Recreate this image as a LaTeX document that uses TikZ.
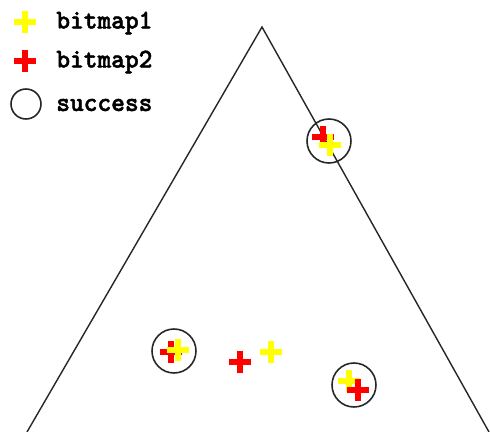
\documentclass[tikz,border=0pt]{standalone}
\usepackage{fontspec}
\newfontfamily\lblfont{lmmonolt10-bold.otf}[FakeBold=1.6]
\usetikzlibrary{shapes.misc, positioning}
\definecolor{bmYellow}{RGB}{255,255,  0}
\definecolor{bmRed}   {RGB}{255,  0,  0}

\begin{document}
\begin{tikzpicture}[
  x=0.02cm, y=-0.02cm,
  mark1/.style={cross out, rotate=45, minimum size=9.6*0.02cm,
    inner sep=0pt, line width=3pt, draw=bmYellow},
  mark2/.style={mark1, draw=bmRed},
  hit/.style={circle, draw=black!85, line width=0.9pt, inner sep=0pt,
    minimum size=44*0.02cm},
  lbl/.style={anchor=west, inner sep=0pt, xscale=0.96,
    font=\lblfont\fontsize{15.5}{15.5}\selectfont},
]
\useasboundingbox (0,0) rectangle (490,432);

%% ── Triangle ─────────────────────────────────────────────────────────────────
\coordinate (TOP) at (262,27);
\coordinate (BL)  at (27,432);
\coordinate (BR)  at (489,432);
\draw[black!85, line width=0.8pt] (BL) -- (TOP) -- (BR);

%% ── Legend ───────────────────────────────────────────────────────────────────
\node[mark1] (LY) at (25,22) {};
\node[lbl]   (LYt) at (56,23) {bitmap1};
\node[mark2] (LR) at (25,61) {};
\node[lbl]   (LRt) at (56,62) {bitmap2};
\node[hit, minimum size=30*0.02cm] (LC) at (26,104) {};
\node[lbl]   (LCt) at (56,105) {success};

%% ── Matched pairs ────────────────────────────────────────────────────────────
\node[mark2] (R1) at (323,137) {};
\node[mark1] (Y1) at (330,145) {};
\node[hit]   (C1) at (329,141) {};

\node[mark2] (R2) at (171,352) {};
\node[mark1] (Y2) at (178,350) {};
\node[hit]   (C2) at (174,351) {};

\node[mark1] (Y3) at (349,381) {};
\node[mark2] (R3) at (358,390) {};
\node[hit]   (C3) at (354,385) {};

%% ── Unmatched pair ───────────────────────────────────────────────────────────
\node[mark2] (R4) at (240,362) {};
\node[mark1] (Y4) at (271,352) {};

\end{tikzpicture}
\end{document}
